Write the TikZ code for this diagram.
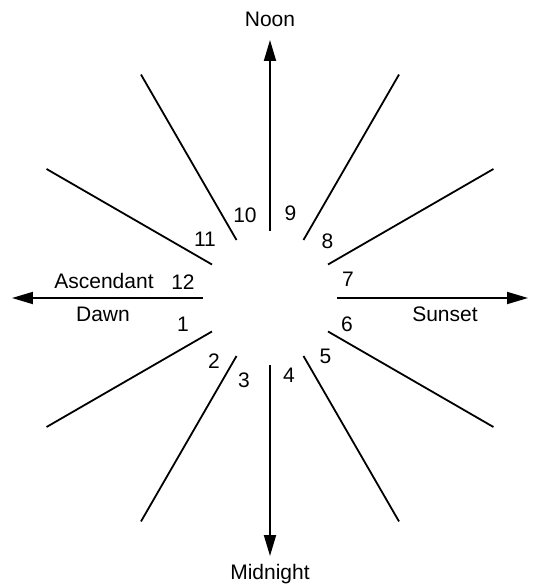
\documentclass[tikz,border=0pt]{standalone}
\usepackage{fontspec}
\setmainfont{Liberation Sans}
\usetikzlibrary{arrows.meta, positioning}

\begin{document}
\begin{tikzpicture}[x=1pt, y=1pt, font=\fontsize{21}{25}\selectfont,
  spoke/.style={line width=1.8pt},
  axis/.style={spoke, -{Triangle[length=21pt, width=12pt]}}]
\useasboundingbox (-270,-287) rectangle (262,298);
% inner and outer ends of the twelve spokes
\foreach \a in {0,30,...,330} {
  \coordinate (in\a) at (\a:67);
  \coordinate (out\a) at (\a:258);
}
\foreach \a in {30,60,120,150,210,240,300,330}
  \draw[spoke] (in\a) -- (out\a);
% horizon and meridian
\foreach \a in {0,90,180,270}
  \draw[axis] (in\a) -- (out\a);
% house numbers
\foreach \n/\x/\y in {1/-87/-26, 2/-56/-63.5, 3/-26/-82, 4/19/-77.5, 5/55.5/-58.5, 6/77/-26,
  7/78/19, 8/57.5/57, 9/20.5/85, 10/-25/83, 11/-65/58.5, 12/-87/16}
  \node (h\n) at (\x,\y) {\n};
\node[above=10pt of out90] (noon) {Noon};
\node[below=5pt of out270] (midnight) {Midnight};
\node (asc) at (-166,17) {Ascendant};
\node (dawn) at (-167,-16) {Dawn};
\node (sunset) at (175,-16.5) {Sunset};
\end{tikzpicture}
\end{document}
